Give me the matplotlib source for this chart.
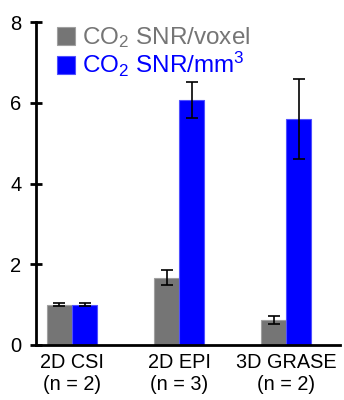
import numpy as np
import matplotlib
matplotlib.use('Agg')
import matplotlib.pyplot as plt

plt.rcParams['font.family'] = ['Liberation Sans', 'DejaVu Sans']
plt.rcParams['mathtext.fontset'] = 'custom'
plt.rcParams['mathtext.rm'] = 'Liberation Sans'
plt.rcParams['mathtext.it'] = 'Liberation Sans'

# data
methods = ['2D CSI\n(n = 2)', '2D EPI\n(n = 3)', '3D GRASE\n(n = 2)']
snr_voxel = [1.0, 1.67, 0.62]
snr_voxel_err = [0.03, 0.18, 0.11]
snr_mm3 = [1.0, 6.06, 5.59]
snr_mm3_err = [0.03, 0.45, 0.99]
yticks = [0, 2, 4, 6, 8]

gray = '#757575'
blue = '#0000ff'

fig = plt.figure(figsize=(3.44, 4.0), dpi=100)
ax = fig.add_axes([0.105, 0.1375, 0.883, 0.8075])

x = np.arange(len(methods))
w = 0.235
ax.bar(x - w/2, snr_voxel, w, color=gray, edgecolor='#a0a0a0', linewidth=0.8,
       yerr=snr_voxel_err, capsize=4.5, error_kw={'elinewidth': 1.2, 'capthick': 1.2},
       label='CO$_2$ SNR/voxel')
ax.bar(x + w/2, snr_mm3, w, color=blue, edgecolor='#5050ff', linewidth=0.8,
       yerr=snr_mm3_err, capsize=4.5, error_kw={'elinewidth': 1.2, 'capthick': 1.2},
       label='CO$_2$ SNR/mm$^3$')

ax.set_ylim(0, 8)
ax.set_xlim(-0.335, 2.5)
ax.set_yticks(yticks)
ax.set_xticks(x)
ax.set_xticklabels(methods)
ax.tick_params(axis='y', direction='inout', length=9, width=2, labelsize=14.5, pad=6)
ax.tick_params(axis='x', length=0, labelsize=14.3, pad=6)
ax.spines['top'].set_visible(False)
ax.spines['right'].set_visible(False)
ax.spines['left'].set_linewidth(2)
ax.spines['bottom'].set_linewidth(2)

leg = ax.legend(loc='upper left', bbox_to_anchor=(0.068, 0.99), frameon=False,
                fontsize=17.5, handlelength=0.75, handleheight=0.75,
                handletextpad=0.3, labelspacing=0.0, borderpad=0, borderaxespad=0)
for t, c in zip(leg.get_texts(), [gray, blue]):
    t.set_color(c)

fig.savefig('out.png', dpi=100)
